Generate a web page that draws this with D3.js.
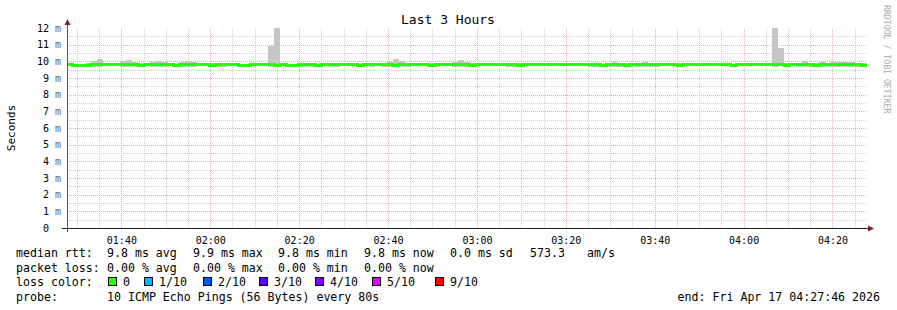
<!DOCTYPE html>
<html>
<head>
<meta charset="utf-8">
<script src="https://cdn.jsdelivr.net/npm/d3@7"></script>
<style>
  html, body { margin: 0; padding: 0; background: #fff; }
  svg { display: block; }
  text { font-family: "DejaVu Sans Mono", "Liberation Mono", monospace; }
</style>
</head>
<body>
<div id="chart"></div>
<script>
// ── Data ──────────────────────────────────────────────────────────────

const START = Date.UTC(2026, 3, 17, 1, 27, 46);
const END = Date.UTC(2026, 3, 17, 4, 27, 46);
const STEP_SEC = 80;

// median rtt per 80s step (ms)
const median = [
  9.80, 9.76, 9.76, 9.76, 9.80, 9.80, 9.81, 9.80, 9.80, 9.80, 9.80, 9.80, 9.77, 9.80, 9.80,
  9.79, 9.80, 9.80, 9.77, 9.80, 9.83, 9.81, 9.80, 9.80, 9.78, 9.80, 9.80, 9.80, 9.80, 9.76,
  9.76, 9.80, 9.80, 9.80, 9.79, 9.77, 9.80, 9.77, 9.77, 9.80, 9.80, 9.80, 9.78, 9.80, 9.80,
  9.80, 9.80, 9.80, 9.80, 9.78, 9.80, 9.80, 9.80, 9.80, 9.80, 9.76, 9.82, 9.81, 9.80, 9.80,
  9.80, 9.77, 9.80, 9.80, 9.80, 9.80, 9.80, 9.80, 9.77, 9.80, 9.80, 9.80, 9.80, 9.80, 9.80,
  9.80, 9.77, 9.80, 9.80, 9.80, 9.80, 9.80, 9.80, 9.80, 9.80, 9.80, 9.80, 9.80, 9.80, 9.80,
  9.76, 9.80, 9.80, 9.80, 9.76, 9.80, 9.80, 9.80, 9.80, 9.80, 9.80, 9.80, 9.80, 9.77, 9.80,
  9.80, 9.80, 9.80, 9.80, 9.80, 9.80, 9.80, 9.77, 9.80, 9.80, 9.80, 9.80, 9.80, 9.80, 9.80,
  9.80, 9.77, 9.80, 9.80, 9.80, 9.80, 9.76, 9.80, 9.80, 9.80, 9.80, 9.80, 9.80, 9.80, 9.77
];

// smoke upper bound per step (ms)
const smokeHi = [
  9.86, 9.85, 9.85, 9.88, 10.05, 10.12, 9.92, 9.88, 9.87, 10.02, 10.06, 9.94, 9.88, 9.86, 9.97,
  10.00, 9.98, 9.88, 9.87, 9.94, 10.02, 9.97, 9.88, 9.86, 9.90, 9.92, 9.92, 9.88, 9.86, 9.86,
  9.87, 9.86, 9.90, 9.88, 10.90, 12.00, 9.88, 9.87, 9.86, 9.90, 9.92, 9.92, 9.86, 9.87, 9.90,
  9.92, 9.88, 9.86, 9.88, 9.86, 9.86, 9.90, 9.88, 9.92, 9.98, 10.12, 10.00, 9.92, 9.88, 9.86,
  9.87, 9.88, 9.90, 9.88, 9.87, 9.94, 10.08, 9.97, 9.88, 9.86, 9.86, 9.88, 9.87, 9.86, 9.90,
  9.92, 9.90, 9.88, 9.86, 9.86, 9.87, 9.86, 9.86, 9.88, 9.87, 9.86, 9.86, 9.86, 9.90, 9.88,
  9.86, 9.88, 9.97, 9.92, 9.88, 9.90, 9.92, 9.94, 9.92, 9.90, 9.88, 9.86, 9.86, 9.88, 9.87,
  9.86, 9.86, 9.88, 9.87, 9.86, 9.86, 9.88, 9.87, 9.86, 9.88, 9.87, 9.86, 9.88, 9.87, 12.00,
  10.82, 9.90, 9.88, 9.92, 10.00, 9.90, 9.88, 9.98, 9.90, 9.98, 9.96, 9.98, 9.94, 9.92, 9.88
];

// smoke lower bound per step (ms)
const smokeLo = [
  9.72, 9.70, 9.70, 9.70, 9.68, 9.68, 9.70, 9.72, 9.72, 9.68, 9.68, 9.69, 9.70, 9.72, 9.68,
  9.68, 9.69, 9.72, 9.70, 9.67, 9.67, 9.69, 9.70, 9.72, 9.70, 9.69, 9.69, 9.72, 9.70, 9.70,
  9.70, 9.72, 9.70, 9.72, 9.68, 9.70, 9.72, 9.70, 9.70, 9.69, 9.68, 9.69, 9.72, 9.70, 9.69,
  9.68, 9.70, 9.72, 9.70, 9.72, 9.72, 9.69, 9.70, 9.68, 9.68, 9.68, 9.69, 9.69, 9.70, 9.72,
  9.70, 9.70, 9.69, 9.70, 9.72, 9.69, 9.68, 9.69, 9.70, 9.72, 9.72, 9.70, 9.70, 9.72, 9.69,
  9.68, 9.69, 9.70, 9.72, 9.72, 9.70, 9.72, 9.72, 9.70, 9.70, 9.72, 9.72, 9.72, 9.68, 9.69,
  9.70, 9.69, 9.68, 9.68, 9.69, 9.68, 9.68, 9.68, 9.69, 9.69, 9.70, 9.72, 9.72, 9.70, 9.70,
  9.72, 9.72, 9.70, 9.70, 9.72, 9.72, 9.70, 9.70, 9.72, 9.70, 9.70, 9.72, 9.70, 9.70, 9.69,
  9.70, 9.69, 9.70, 9.69, 9.68, 9.69, 9.70, 9.65, 9.64, 9.66, 9.68, 9.68, 9.69, 9.69, 9.70
];

const lossLabels = ['0', '1/10', '2/10', '3/10', '4/10', '5/10', '9/10'];
const lossColors = ['#26ff00', '#00b8ff', '#0059ff', '#5e00ff', '#7e00ff', '#dd00ff', '#ff0000'];

const statsRtt = ['9.8 ms avg', '9.9 ms max', '9.8 ms min', '9.8 ms now', '0.0 ms sd', '573.3', 'am/s'];
const statsLoss = ['0.00 % avg', '0.00 % max', '0.00 % min', '0.00 % now'];

// ── Layout ────────────────────────────────────────────────────────────

const W = 897, H = 310;
const PLOT = { left: 67, right: 867, top: 28, bottom: 228 };
const RED_GRID = '#f0a8a8';
const GRAY_GRID = '#cccccc';

const svg = d3.select('#chart').append('svg')
  .attr('width', W).attr('height', H);

const x = d3.scaleUtc()
  .domain([new Date(START), new Date(END)])
  .range([PLOT.left, PLOT.right]);

const y = d3.scaleLinear()
  .domain([0, 12])
  .range([PLOT.bottom, PLOT.top]);

const steps = median.map((m, i) => ({
  t: new Date(START + i * STEP_SEC * 1000),
  med: m, hi: smokeHi[i], lo: smokeLo[i],
}));
// close last step at end time
const stepsClosed = steps.concat([{ ...steps[steps.length - 1], t: new Date(END) }]);

// ── Grid ──────────────────────────────────────────────────────────────

const grid = svg.append('g').attr('shape-rendering', 'crispEdges');

grid.append('g')
  .attr('transform', `translate(0,${PLOT.bottom})`)
  .call(d3.axisBottom(x).ticks(d3.utcMinute.every(5)).tickSize(-(PLOT.bottom - PLOT.top)).tickFormat(''))
  .call(g => g.select('.domain').remove())
  .call(g => g.selectAll('line')
    .attr('stroke', d => d.getUTCMinutes() % 20 === 0 ? RED_GRID : GRAY_GRID)
    .attr('stroke-dasharray', '1,1'));

grid.append('g')
  .attr('transform', `translate(${PLOT.left},0)`)
  .call(d3.axisRight(y).tickValues(d3.range(1, 24).map(v => v / 2)).tickSize(PLOT.right - PLOT.left).tickFormat(''))
  .call(g => g.select('.domain').remove())
  .call(g => g.selectAll('line')
    .attr('stroke', d => Number.isInteger(d) ? RED_GRID : GRAY_GRID)
    .attr('stroke-dasharray', '1,1'));

// ── Smoke + median ────────────────────────────────────────────────────

svg.append('path')
  .datum(stepsClosed)
  .attr('fill', '#c6c6c6')
  .attr('shape-rendering', 'crispEdges')
  .attr('d', d3.area()
    .x(d => x(d.t))
    .y0(d => y(d.lo))
    .y1(d => y(d.hi))
    .curve(d3.curveStepAfter));

svg.append('path')
  .datum(stepsClosed)
  .attr('fill', 'none')
  .attr('stroke', lossColors[0])
  .attr('stroke-width', 3)
  .attr('shape-rendering', 'crispEdges')
  .attr('d', d3.line()
    .x(d => x(d.t))
    .y(d => y(d.med))
    .curve(d3.curveStepAfter));

// ── Axes ──────────────────────────────────────────────────────────────

const yAxis = svg.append('g')
  .attr('transform', `translate(${PLOT.left},0)`)
  .call(d3.axisLeft(y).ticks(12).tickSize(0).tickPadding(6).tickFormat(''));
yAxis.select('.domain').remove();
yAxis.selectAll('.tick text').each(function (d) {
  const t = d3.select(this)
    .attr('font-size', '10px')
    .attr('font-family', '"DejaVu Sans Mono", monospace')
    .attr('fill', '#000');
  t.append('tspan').text(`${d} `);
  t.append('tspan').attr('fill', '#666').attr('fill-opacity', d === 0 ? 0 : 1).text('m');
});

const xAxis = svg.append('g')
  .attr('transform', `translate(0,${PLOT.bottom})`)
  .call(d3.axisBottom(x).ticks(d3.utcMinute.every(20)).tickSize(0).tickPadding(9)
    .tickFormat(d3.utcFormat('%H:%M')));
xAxis.select('.domain').remove();
xAxis.selectAll('text')
  .attr('font-size', '10px')
  .attr('fill', '#000')
  .attr('font-family', '"DejaVu Sans Mono", monospace');

// axis lines + arrows
svg.append('line')
  .attr('x1', PLOT.left + 0.5).attr('x2', PLOT.left + 0.5)
  .attr('y1', PLOT.bottom + 4).attr('y2', 22)
  .attr('stroke', '#555');
svg.append('line')
  .attr('x1', 62).attr('x2', PLOT.right + 3)
  .attr('y1', PLOT.bottom + 0.5).attr('y2', PLOT.bottom + 0.5)
  .attr('stroke', '#222');
svg.append('path')
  .attr('d', `M${PLOT.left + 0.5},19 L${PLOT.left - 2.5},25 L${PLOT.left + 3.5},25 Z`)
  .attr('fill', '#8b1a1a');
svg.append('path')
  .attr('d', `M${PLOT.right + 7},${PLOT.bottom + 0.5} L${PLOT.right + 1},${PLOT.bottom - 2.5} L${PLOT.right + 1},${PLOT.bottom + 3.5} Z`)
  .attr('fill', '#8b1a1a');

// ── Titles ────────────────────────────────────────────────────────────

svg.append('text')
  .attr('x', 448).attr('y', 24)
  .attr('text-anchor', 'middle')
  .attr('font-size', '13px')
  .text('Last 3 Hours');

svg.append('text')
  .attr('transform', `translate(15,${(PLOT.top + PLOT.bottom) / 2}) rotate(-90)`)
  .attr('text-anchor', 'middle')
  .attr('font-size', '11px')
  .text('Seconds');

svg.append('text')
  .attr('transform', 'translate(884,5) rotate(90)')
  .attr('font-size', '8.2px')
  .attr('fill', '#aaa')
  .text('RRDTOOL / TOBI OETIKER');

// ── Legend ────────────────────────────────────────────────────────────

const legend = svg.append('g').attr('font-size', '11.6px').attr('fill', '#000');
const ROW_Y = [257, 271.5, 286, 300.5];
const COL_X = [107, 193, 278, 364, 450, 530, 587];

legend.append('text').attr('x', 16).attr('y', ROW_Y[0]).text('median rtt:');
statsRtt.forEach((s, i) => legend.append('text').attr('x', COL_X[i]).attr('y', ROW_Y[0]).text(s));

legend.append('text').attr('x', 16).attr('y', ROW_Y[1]).text('packet loss:');
statsLoss.forEach((s, i) => legend.append('text').attr('x', COL_X[i]).attr('y', ROW_Y[1]).text(s));

legend.append('text').attr('x', 16).attr('y', ROW_Y[2]).text('loss color:');
const BOX_X = [108, 144, 203, 259, 315, 372, 435];
lossLabels.forEach((l, i) => {
  legend.append('rect')
    .attr('x', BOX_X[i] + 0.5).attr('y', ROW_Y[2] - 8.5)
    .attr('width', 8).attr('height', 8)
    .attr('fill', lossColors[i])
    .attr('stroke', '#000');
  legend.append('text').attr('x', BOX_X[i] + 15).attr('y', ROW_Y[2]).text(l);
});

legend.append('text').attr('x', 16).attr('y', ROW_Y[3]).text('probe:');
legend.append('text').attr('x', 107).attr('y', ROW_Y[3]).text('10 ICMP Echo Pings (56 Bytes) every 80s');
legend.append('text').attr('x', 880).attr('y', ROW_Y[3]).attr('text-anchor', 'end')
  .text('end: Fri Apr 17 04:27:46 2026');
</script>
</body>
</html>
